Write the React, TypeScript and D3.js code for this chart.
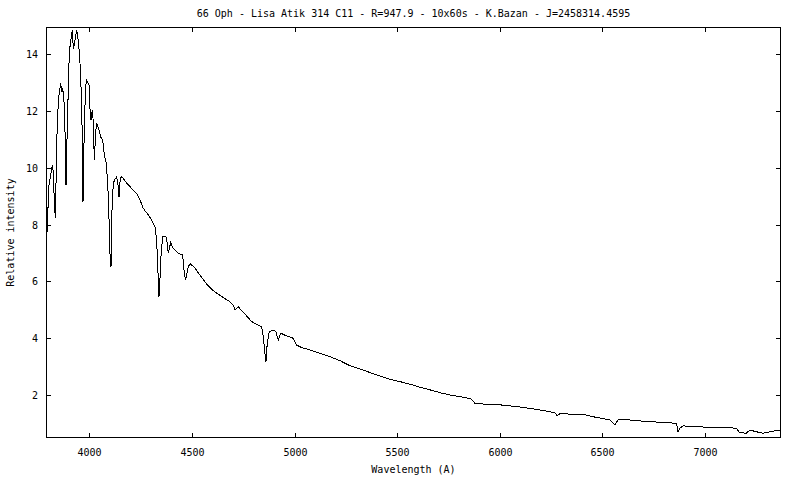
import * as React from "react";
import * as d3 from "d3";

const TITLE =
  "66 Oph - Lisa Atik 314 C11 - R=947.9 - 10x60s - K.Bazan - J=2458314.4595";
const X_LABEL = "Wavelength (A)";
const Y_LABEL = "Relative intensity";

const X_TICKS = [4000, 4500, 5000, 5500, 6000, 6500, 7000];
const Y_TICKS = [2, 4, 6, 8, 10, 12, 14];
const X_DOMAIN: [number, number] = [3789, 7370];
const Y_DOMAIN: [number, number] = [0.47, 14.97];

// wavelength (A)
const WAVELENGTH = [
  3789.1, 3795.5, 3796.4, 3803.6, 3812.0, 3819.8, 3824.7, 3829.5, 3834.4, 3839.3,
  3844.2, 3852.4, 3860.7, 3865.6, 3870.5, 3876.8, 3881.7, 3886.5, 3892.9, 3902.6,
  3910.9, 3917.2, 3922.1, 3927.0, 3933.8, 3938.6, 3945.0, 3951.3, 3958.1, 3964.4,
  3969.3, 3975.7, 3982.5, 3987.3, 3998.5, 4003.4, 4008.3, 4014.6, 4019.5, 4024.4,
  4031.2, 4036.0, 4045.8, 4055.5, 4065.3, 4073.1, 4081.3, 4089.6, 4095.9, 4102.3,
  4105.7, 4110.5, 4116.9, 4125.2, 4133.4, 4139.8, 4144.6, 4149.5, 4154.4, 4166.6,
  4182.1, 4203.1, 4230.8, 4246.9, 4263.0, 4287.3, 4303.9, 4319.9, 4328.2, 4336.0,
  4339.4, 4341.8, 4347.7, 4357.4, 4373.5, 4380.8, 4384.6, 4396.4, 4409.1, 4433.4,
  4454.9, 4462.7, 4469.5, 4482.1, 4493.8, 4514.8, 4539.1, 4571.7, 4603.9, 4644.8,
  4685.2, 4702.3, 4709.6, 4725.6, 4758.3, 4790.9, 4814.3, 4839.6, 4847.4, 4855.7,
  4860.5, 4866.9, 4876.6, 4896.1, 4909.2, 4920.4, 4932.1, 4961.3, 4993.5, 5010.0,
  5034.4, 5074.8, 5123.5, 5172.2, 5220.9, 5269.6, 5318.3, 5367.0, 5415.7, 5464.4,
  5513.1, 5561.8, 5610.5, 5659.2, 5707.9, 5756.6, 5821.4, 5862.3, 5878.4, 5918.8,
  6000.1, 6081.4, 6162.3, 6243.6, 6272.8, 6279.1, 6292.2, 6405.8, 6454.5, 6535.8,
  6560.1, 6576.2, 6600.6, 6665.8, 6730.6, 6811.9, 6860.6, 6868.4, 6876.7, 6892.8,
  6941.5, 7022.8, 7104.1, 7152.8, 7168.9, 7201.5, 7217.6, 7250.2, 7282.4, 7315.0,
  7347.6, 7370.0,
];

// relative intensity at each wavelength
const INTENSITY = [
  7.55, 7.8, 8.2, 9.39, 9.74, 10.1, 9.86, 8.8, 8.22, 9.98,
  11.74, 12.56, 12.98, 12.68, 12.8, 12.33, 11.27, 9.39, 11.51, 14.09,
  14.56, 14.86, 14.21, 14.33, 14.68, 14.86, 14.56, 14.09, 13.27, 11.51,
  8.8, 11.51, 12.92, 13.09, 12.92, 12.09, 11.68, 12.04, 11.62, 10.27,
  11.27, 11.57, 11.39, 11.09, 10.98, 10.45, 10.21, 9.51, 8.22, 6.6,
  6.51, 8.5, 9.46, 9.6, 9.69, 9.4, 8.98, 9.5, 9.69, 9.62,
  9.46, 9.3, 9.1, 8.87, 8.57, 8.34, 8.16, 7.93, 7.46, 6.05,
  5.46, 5.6, 6.75, 7.57, 7.57, 7.3, 6.99, 7.36, 7.16, 6.99,
  6.93, 6.28, 6.05, 6.52, 6.61, 6.46, 6.22, 5.9, 5.67, 5.46,
  5.28, 5.15, 4.99, 5.1, 4.84, 4.58, 4.48, 4.4, 4.05, 3.46,
  3.16, 3.81, 4.22, 4.28, 4.22, 3.93, 4.17, 4.07, 3.99, 3.75,
  3.66, 3.58, 3.46, 3.34, 3.2, 3.02, 2.91, 2.78, 2.66, 2.54,
  2.46, 2.37, 2.26, 2.17, 2.07, 1.99, 1.91, 1.84, 1.7, 1.67,
  1.64, 1.58, 1.5, 1.4, 1.34, 1.25, 1.32, 1.31, 1.22, 1.11,
  0.93, 1.11, 1.13, 1.08, 1.05, 1.01, 0.99, 0.69, 0.81, 0.9,
  0.87, 0.85, 0.85, 0.81, 0.66, 0.64, 0.75, 0.69, 0.64, 0.69,
  0.73, 0.72,
];

const WIDTH = 800;
const HEIGHT = 480;
const margin = { top: 27, right: 19, bottom: 42, left: 46 };
const FONT = "'DejaVu Sans Mono', monospace";
const TICK = 5;

export default function App() {
  const iw = WIDTH - margin.left - margin.right;
  const ih = HEIGHT - margin.top - margin.bottom;

  const x = d3.scaleLinear().domain(X_DOMAIN).range([0, iw]);
  const y = d3.scaleLinear().domain(Y_DOMAIN).range([ih, 0]);

  const points: [number, number][] = WAVELENGTH.map((w, i) => [w, INTENSITY[i]]);
  const line = d3
    .line<[number, number]>()
    .x((d) => x(d[0]))
    .y((d) => y(d[1]));

  return (
    <div style={{ position: "absolute", left: 0, top: 0, background: "#fff" }}>
      <svg width={WIDTH} height={HEIGHT} style={{ display: "block" }} fontFamily={FONT}>
        <rect width={WIDTH} height={HEIGHT} fill="#fff" />
        <text x={margin.left + iw / 2} y={17} textAnchor="middle" fontSize={10} fill="#000">
          {TITLE}
        </text>
        <g transform={`translate(${margin.left},${margin.top})`}>
          <g clipPath="url(#plot-clip)">
            <path
              d={line(points) ?? undefined}
              fill="none"
              stroke="#000"
              strokeWidth={1}
              shapeRendering="crispEdges"
            />
          </g>
          <clipPath id="plot-clip">
            <rect x={0} y={0} width={iw} height={ih} />
          </clipPath>

          {X_TICKS.map((t) => (
            <g key={t} transform={`translate(${Math.round(x(t)) + 0.5},0)`}>
              <line y1={ih} y2={ih - TICK} stroke="#000" />
              <line y1={0} y2={TICK} stroke="#000" />
              <text y={ih + 18} textAnchor="middle" fontSize={10} fill="#000">
                {t}
              </text>
            </g>
          ))}

          {Y_TICKS.map((t) => (
            <g key={t} transform={`translate(0,${Math.round(y(t)) + 0.5})`}>
              <line x1={0} x2={TICK} stroke="#000" />
              <line x1={iw} x2={iw - TICK} stroke="#000" />
              <text x={-8} y={3.5} textAnchor="end" fontSize={10} fill="#000">
                {t}
              </text>
            </g>
          ))}

          <rect
            x={0.5}
            y={0.5}
            width={iw - 1}
            height={ih - 1}
            fill="none"
            stroke="#000"
            shapeRendering="crispEdges"
          />

          <text x={iw / 2} y={ih + 35} textAnchor="middle" fontSize={10} fill="#000">
            {X_LABEL}
          </text>
        </g>
        <text
          transform={`translate(14,${margin.top + ih / 2}) rotate(-90)`}
          textAnchor="middle"
          fontSize={10}
          fill="#000"
        >
          {Y_LABEL}
        </text>
      </svg>
    </div>
  );
}
